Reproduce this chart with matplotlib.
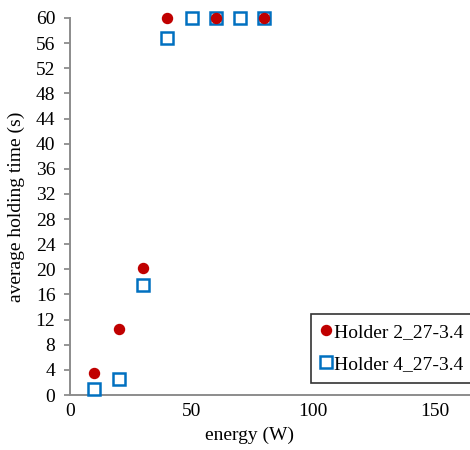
import matplotlib
matplotlib.use("Agg")
import matplotlib.pyplot as plt

# data
energy_h2 = [10, 20, 30, 40, 60, 80]
time_h2 = [3.5, 10.5, 20.2, 60, 60, 60]
energy_h4 = [10, 20, 30, 40, 50, 60, 70, 80]
time_h4 = [1.0, 2.6, 17.5, 56.8, 60, 60, 60, 60]
yticks = list(range(0, 61, 4))
xticks = [0, 50, 100, 150]

plt.rcParams['font.family'] = ['Liberation Serif', 'DejaVu Serif']

fig = plt.figure(figsize=(4.7, 4.5), dpi=100)
ax = fig.add_axes([70/470, 55/450, 486/470, 377/450])

ax.plot(energy_h4, time_h4, 's', ms=9, mfc='white', mec='#0070C0', mew=1.8,
        clip_on=False, zorder=3, label='Holder 4_27-3.4')
ax.plot(energy_h2, time_h2, 'o', ms=7.2, color='#C00000',
        clip_on=False, zorder=4, label='Holder 2_27-3.4')

ax.set_xlim(0, 200)
ax.set_ylim(0, 60)
ax.set_yticks(yticks)
ax.set_xticks(xticks)
for s in ['top', 'right']:
    ax.spines[s].set_visible(False)
for s in ['left', 'bottom']:
    ax.spines[s].set_color('#8c8c8c')
    ax.spines[s].set_linewidth(1.4)
ax.tick_params(axis='y', length=4.5, color='#8c8c8c', width=1.3, labelsize=14, pad=6)
ax.tick_params(axis='x', length=0, labelsize=14, pad=6)

ax.set_ylabel('average holding time (s)', fontsize=14)
ax.yaxis.set_label_coords(-45/486, 0.5)
ax.set_xlabel('energy (W)', fontsize=14)
ax.xaxis.set_label_coords(179/486, -0.085)

h, l = ax.get_legend_handles_labels()
leg = fig.legend([h[1], h[0]], [l[1], l[0]], loc='lower left',
                 bbox_to_anchor=(311/470, 67/450), fontsize=14,
                 frameon=True, fancybox=False, edgecolor='black',
                 handlelength=0.5, handletextpad=0.2, borderpad=0.5,
                 labelspacing=0.75, borderaxespad=0)
leg.get_frame().set_linewidth(1.2)

fig.savefig('out.png', dpi=100)
